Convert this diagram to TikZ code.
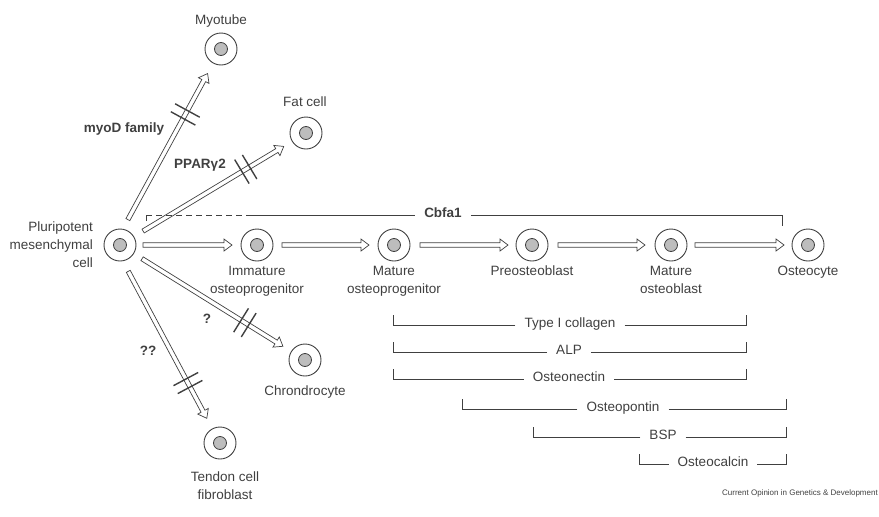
\documentclass[tikz,border=0pt]{standalone}
\usepackage{fontspec}
\setmainfont{Liberation Sans}
\usetikzlibrary{calc}

\definecolor{ink}{gray}{0.25}
\definecolor{nucleus}{gray}{0.74}

\tikzset{
  cell/.style={circle,draw=ink,line width=0.9pt,minimum size=32pt,inner sep=0pt,
    path picture={\draw[ink,line width=0.8pt,fill=nucleus]
      (path picture bounding box.center) circle (6.5pt);}},
  lab/.style={text=ink,inner sep=0pt,align=center,font=\fontsize{13.5}{18}\selectfont},
  tf/.style={lab,font=\bfseries\fontsize{13.5}{18}\selectfont},
  shaft/.style={draw=ink,line width=0.7pt,line join=miter},
  cut/.style={draw=ink,line width=1.4pt},
  bracket/.style={draw=ink,line width=0.8pt},
  marker/.style={lab,anchor=mid,inner xsep=9pt}
}

% hollow arrow: from, to, gap at start, gap at end
\newcommand\hollowarrow[4]{%
  \coordinate (as) at ($(#1)!#3!(#2)$);
  \coordinate (ae) at ($(#2)!#4!(#1)$);
  \coordinate (ab) at ($(ae)!8pt!(as)$);
  \draw[shaft] ($(as)!2.2pt!90:(ae)$) -- ($(ab)!2.2pt!-90:(as)$) -- ($(ab)!6pt!-90:(as)$) -- (ae)
    -- ($(ab)!6pt!90:(as)$) -- ($(ab)!2.2pt!90:(as)$) -- ($(as)!2.2pt!-90:(ae)$) -- cycle;
}
% two strokes across the last arrow
\newcommand\cutmarks[1]{%
  \coordinate (cm) at ($(as)!#1!(ae)$);
  \coordinate (c1) at ($(cm)!4.5pt!(ae)$);
  \coordinate (c2) at ($(cm)!4.5pt!(as)$);
  \draw[cut] ($(c1)!14pt!90:(ae)$) -- ($(c1)!14pt!-90:(ae)$);
  \draw[cut] ($(c2)!14pt!90:(ae)$) -- ($(c2)!14pt!-90:(ae)$);
}

\begin{document}
\begin{tikzpicture}[x=1pt,y=-1pt]
  \useasboundingbox (0,0) rectangle (879,517);

  % cells
  \node[cell] (pm) at (120,245) {};
  \node[cell] (myo) at (221,49) {};
  \node[cell] (fat) at (306,133) {};
  \node[cell] (imm) at (257,245) {};
  \node[cell] (mop) at (394,245) {};
  \node[cell] (pre) at (532,245) {};
  \node[cell] (mob) at (671,245) {};
  \node[cell] (ocy) at (808,245) {};
  \node[cell] (chon) at (305,360) {};
  \node[cell] (ten) at (220,443) {};

  % cell names
  \node[lab,anchor=north east,align=right] (pmname) at (93,222) {Pluripotent\\mesenchymal\\cell};
  \node[lab,anchor=north] (myoname) at (221,15) {Myotube};
  \node[lab,anchor=north] (fatname) at (305,97) {Fat cell};
  \node[lab,anchor=north] (immname) at (257,266) {Immature\\osteoprogenitor};
  \node[lab,anchor=north] (mopname) at (394,266) {Mature\\osteoprogenitor};
  \node[lab,anchor=north] (prename) at (532,266) {Preosteoblast};
  \node[lab,anchor=north] (mobname) at (671,266) {Mature\\osteoblast};
  \node[lab,anchor=north] (ocyname) at (808,266) {Osteocyte};
  \node[lab,anchor=north] (chonname) at (305,386) {Chrondrocyte};
  \node[lab,anchor=north] (tenname) at (225,472) {Tendon cell\\fibroblast};

  % factors
  \node[tf] (myod) at (124,129) {myoD family};
  \node[tf] (ppar) at (200,165) {PPARγ2};
  \node[tf] (qone) at (207,319) {?};
  \node[tf] (qtwo) at (148,351) {??};

  % osteoblast lineage
  \hollowarrow{pm}{imm}{23pt}{25pt}
  \hollowarrow{imm}{mop}{25pt}{25pt}
  \hollowarrow{mop}{pre}{26pt}{24pt}
  \hollowarrow{pre}{mob}{26pt}{26pt}
  \hollowarrow{mob}{ocy}{24pt}{24pt}

  % other lineages
  \hollowarrow{pm.80}{myo}{10.5pt}{28pt}
  \cutmarks{0.72}
  \hollowarrow{pm}{fat}{27pt}{26pt}
  \cutmarks{0.73}
  \hollowarrow{pm}{chon}{26pt}{26pt}
  \cutmarks{0.73}
  \hollowarrow{pm.-80}{ten}{11.5pt}{28pt}
  \cutmarks{0.76}

  % Cbfa1 span
  \node[tf,anchor=mid,inner xsep=9pt] (cbfa) at (443,215) {Cbfa1};
  \coordinate (cbstart) at (146,221);
  \coordinate (cbdash) at (250,215);
  \coordinate (cbend) at (782,226);
  \draw[bracket] (cbstart) -- (cbstart |- cbdash);
  \draw[bracket,dash pattern=on 6pt off 4pt] (cbstart |- cbdash) -- (cbdash);
  \draw[bracket] (cbdash) -- (cbfa.mid west);
  \draw[bracket] (cbfa.mid east) -- (cbend |- cbdash) -- (cbend);

  % marker genes
  \foreach \txt/\xc/\yc/\xl/\xr [count=\i] in {Type I collagen/570/325/393/746,
      ALP/569/352/393/746, Osteonectin/569/379/393/746, Osteopontin/623/409/462/786,
      BSP/663/437/533/786, Osteocalcin/713/464/639/786}
  {
    \node[marker] (mk\i) at (\xc,\yc) {\txt};
    \draw[bracket] (mk\i.mid west) -- (\xl,\yc) -- ++(0,-10);
    \draw[bracket] (mk\i.mid east) -- (\xr,\yc) -- ++(0,-10);
  }

  \node[text=ink,inner sep=0pt,anchor=east,font=\fontsize{8}{10}\selectfont] (credit) at (878,493)
    {Current Opinion in Genetics \& Development};
\end{tikzpicture}
\end{document}
